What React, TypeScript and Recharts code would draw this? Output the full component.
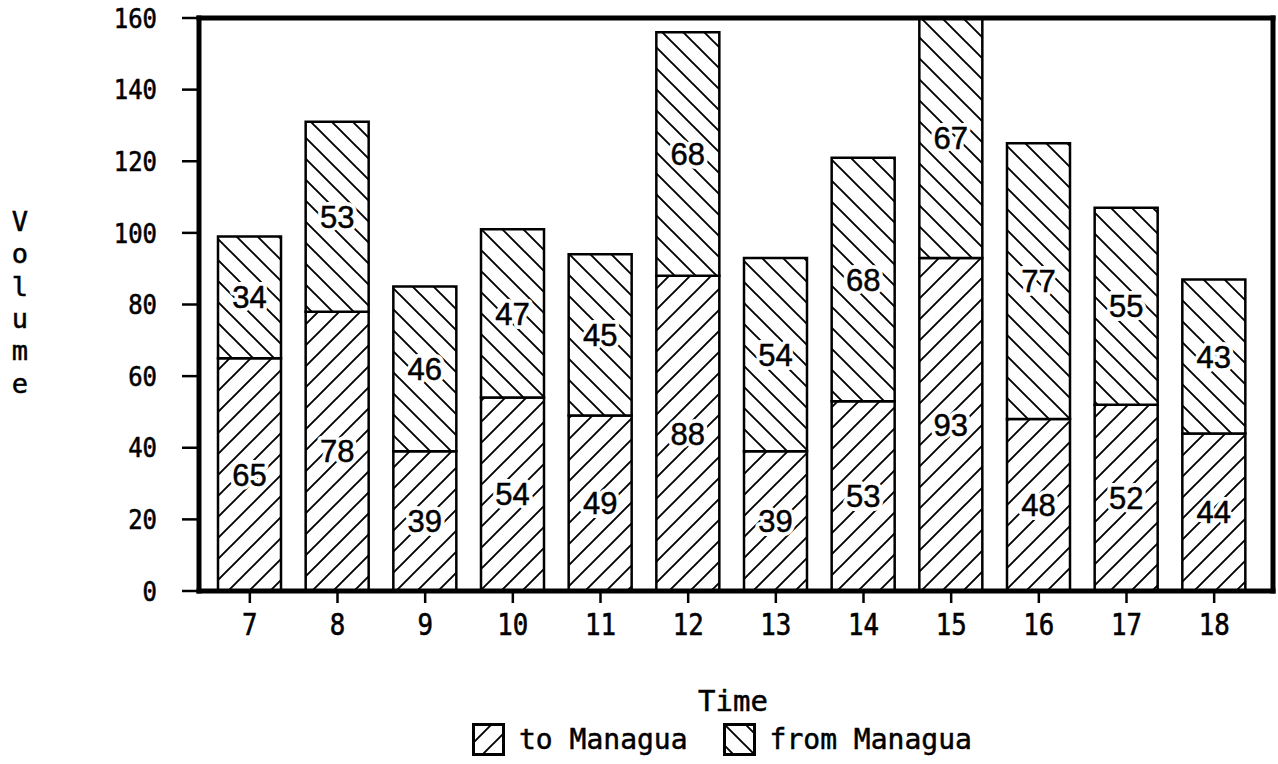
import React from 'react';
import { BarChart, Bar, XAxis, YAxis, LabelList, Label, Legend } from 'recharts';

const hours = ['7', '8', '9', '10', '11', '12', '13', '14', '15', '16', '17', '18'];
const toManagua = [65, 78, 39, 54, 49, 88, 39, 53, 93, 48, 52, 44];
const fromManagua = [34, 53, 46, 47, 45, 68, 54, 68, 67, 77, 55, 43];
const yTicks = [0, 20, 40, 60, 80, 100, 120, 140, 160];
const seriesNames = ['to Managua', 'from Managua'];
const yTitle = 'Volume';
const xTitle = 'Time';

const data = hours.map((h, i) => ({ hour: h, to: toManagua[i], from: fromManagua[i] }));

const MONO = '"DejaVu Sans Mono", monospace';
const SANS = '"Liberation Sans", Arial, sans-serif';

const Patterns = ({ prefix }: { prefix: string }) => (
  <defs>
    <pattern id={`${prefix}fwd`} patternUnits="userSpaceOnUse" width={21} height={21}>
      <rect width={21} height={21} fill="#fff" />
      <path d="M-5,5 L5,-5 M0,21 L21,0 M16,26 L26,16" stroke="#000" strokeWidth={1.9} />
    </pattern>
    <pattern id={`${prefix}back`} patternUnits="userSpaceOnUse" width={21} height={21}>
      <rect width={21} height={21} fill="#fff" />
      <path d="M-5,16 L5,26 M0,0 L21,21 M16,-5 L26,5" stroke="#000" strokeWidth={1.9} />
    </pattern>
  </defs>
);

const renderValue = (props: any) => {
  const vb = props.viewBox || props;
  const x = Number(vb.x ?? props.x);
  const y = Number(vb.y ?? props.y);
  const w = Number(vb.width ?? props.width);
  const h = Number(vb.height ?? props.height);
  const cx = x + w / 2;
  const cy = y + h / 2;
  return (
    <g>
      <text x={cx} y={cy} dy="0.36em" textAnchor="middle" fontSize={31} fontFamily={SANS} fill="#fff" stroke="#fff" strokeWidth={8} strokeLinejoin="round">
        {props.value}
      </text>
      <text x={cx} y={cy} dy="0.36em" textAnchor="middle" fontSize={31} fontFamily={SANS} fill="#000" stroke="#000" strokeWidth={0.5}>
        {props.value}
      </text>
    </g>
  );
};

const YTick = (props: any) => {
  const { x, y, payload } = props;
  const s = String(payload.value);
  return (
    <text
      x={x}
      y={y}
      dy="0.36em"
      textAnchor="end"
      fontSize={27}
      fontFamily={MONO}
      fill="#000"
      stroke="#000"
      strokeWidth={0.6}
      textLength={s.length * 14.4}
      lengthAdjust="spacingAndGlyphs"
    >
      {s}
    </text>
  );
};

const XTick = (props: any) => {
  const { x, y, payload } = props;
  const s = String(payload.value);
  return (
    <text
      x={x}
      y={y}
      dy="0.74em"
      textAnchor="middle"
      fontSize={30}
      fontFamily={MONO}
      fill="#000"
      stroke="#000"
      strokeWidth={0.6}
      textLength={s.length * 15.5}
      lengthAdjust="spacingAndGlyphs"
    >
      {s}
    </text>
  );
};

const VolumeLabel = () => (
  <text x={20} fontSize={27} fontFamily={MONO} fill="#000" stroke="#000" strokeWidth={0.5} textAnchor="middle">
    {yTitle.split('').map((c, i) => (
      <tspan key={i} x={20} y={231 + i * 32.3}>
        {c}
      </tspan>
    ))}
  </text>
);

const TimeLabel = (props: any) => {
  const vb = props.viewBox || {};
  return (
    <text
      x={vb.x + vb.width / 2 - 3}
      y={vb.y + vb.height - 3}
      textAnchor="middle"
      fontSize={29}
      fontFamily={MONO}
      fill="#000"
      stroke="#000"
      strokeWidth={0.5}
    >
      {xTitle}
    </text>
  );
};

const renderLegend = () => (
  <div
    style={{
      height: 50,
      display: 'flex',
      alignItems: 'center',
      paddingLeft: 472,
      fontFamily: MONO,
      fontSize: 28,
      color: '#000',
      WebkitTextStroke: '0.5px #000',
      boxSizing: 'border-box',
    }}
  >
    {seriesNames.map((name, i) => (
      <div key={name} style={{ display: 'flex', alignItems: 'center', marginRight: 35 }}>
        <svg width={33} height={33} style={{ display: 'block' }}>
          <Patterns prefix={`lg${i}`} />
          <rect
            x={1.5}
            y={1.5}
            width={30}
            height={30}
            fill={`url(#lg${i}${i === 0 ? 'fwd' : 'back'})`}
            stroke="#000"
            strokeWidth={3}
          />
        </svg>
        <span style={{ marginLeft: 14, lineHeight: '33px', whiteSpace: 'pre' }}>{name}</span>
      </div>
    ))}
  </div>
);

export default function App() {
  return (
    <div style={{ position: 'absolute', left: 0, top: 0, width: 1278, height: 764, background: '#fff' }}>
      <BarChart
        width={1278}
        height={764}
        data={data}
        margin={{ top: 17, right: 4, bottom: 0, left: 0 }}
        barSize={63}
      >
        <Patterns prefix="" />
        <XAxis
          dataKey="hour"
          height={123}
          padding={{ left: 7, right: 15 }}
          interval={0}
          axisLine={{ stroke: '#000', strokeWidth: 5, strokeLinecap: 'square' }}
          tickLine={{ stroke: '#000', strokeWidth: 2.5 }}
          tickSize={12}
          tickMargin={10}
          tick={<XTick />}
        >
          <Label content={TimeLabel} />
        </XAxis>
        <XAxis
          xAxisId="top"
          dataKey="hour"
          orientation="top"
          height={1}
          padding={{ left: 7, right: 15 }}
          tick={false}
          tickLine={false}
          axisLine={{ stroke: '#000', strokeWidth: 5, strokeLinecap: 'square' }}
        />
        <YAxis
          domain={[0, 160]}
          ticks={yTicks}
          width={199}
          interval={0}
          axisLine={{ stroke: '#000', strokeWidth: 5, strokeLinecap: 'square' }}
          tickLine={{ stroke: '#000', strokeWidth: 2.5 }}
          tickSize={17}
          tickMargin={25}
          tick={<YTick />}
        >
          <Label content={VolumeLabel} />
        </YAxis>
        <YAxis
          yAxisId="right"
          orientation="right"
          domain={[0, 160]}
          width={1}
          tick={false}
          tickLine={false}
          axisLine={{ stroke: '#000', strokeWidth: 5, strokeLinecap: 'square' }}
        />
        <Legend verticalAlign="bottom" height={50} content={renderLegend} />
        <Bar dataKey="to" name={seriesNames[0]} stackId="a" fill="url(#fwd)" stroke="#000" strokeWidth={2.5} isAnimationActive={false}>
          <LabelList dataKey="to" content={renderValue} />
        </Bar>
        <Bar dataKey="from" name={seriesNames[1]} stackId="a" fill="url(#back)" stroke="#000" strokeWidth={2.5} isAnimationActive={false}>
          <LabelList dataKey="from" content={renderValue} />
        </Bar>
      </BarChart>
    </div>
  );
}
